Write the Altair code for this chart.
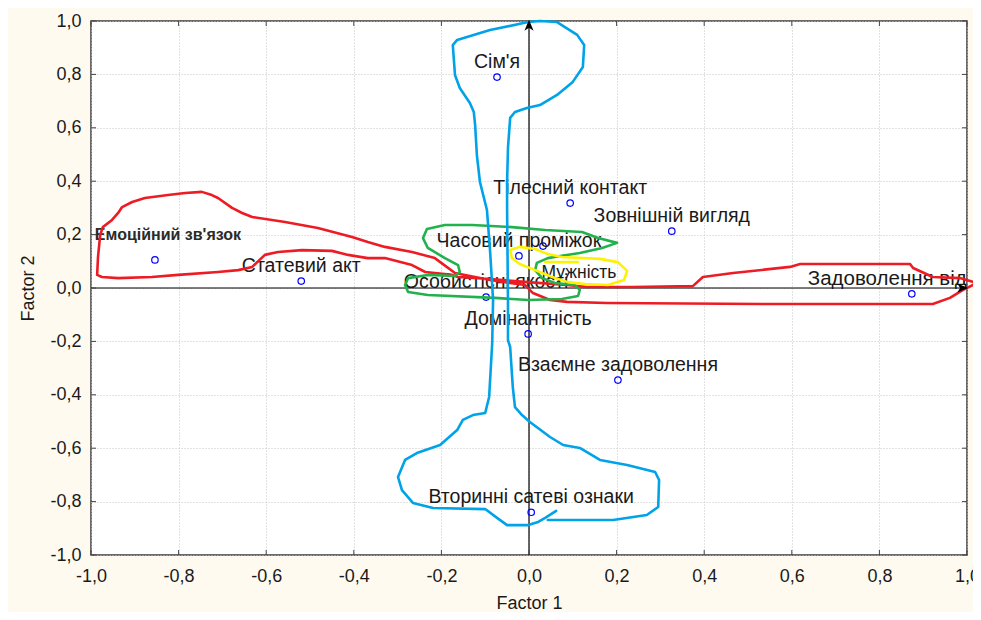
import altair as alt
import pandas as pd

# ---------------- data ----------------
TICKS = [-1.0, -0.8, -0.6, -0.4, -0.2, 0.0, 0.2, 0.4, 0.6, 0.8, 1.0]

LABELS = ["Сім'я", "Тілесний контакт", "Зовнішній вигляд", "Часовий проміжок",
          "Мужність", "Особистісні якості", "Домінантність", "Взаємне задоволення",
          "Вторинні сатеві ознаки", "Емоційний зв'язок", "Статевий акт",
          "Задоволення від сексу"]
FACTOR1 = [-0.073, 0.094, 0.326, -0.023, 0.032, -0.098, -0.002, 0.203, 0.005, -0.854, -0.520, 0.874]
FACTOR2 = [0.790, 0.318, 0.213, 0.120, 0.157, -0.034, -0.172, -0.345, -0.840, 0.105, 0.026, -0.022]

RED_X = [-0.169, -0.215, -0.267, -0.329, -0.368, -0.404, -0.482, -0.557, -0.632, -0.655, -0.678,
         -0.710, -0.724, -0.747, -0.785, -0.824, -0.877, -0.906, -0.929, -0.938, -0.952, -0.973,
         -0.979, -0.984, -0.986, -0.975, -0.938, -0.861, -0.801, -0.710, -0.664, -0.632, -0.603,
         -0.573, -0.518, -0.450, -0.413, -0.368, -0.329, -0.267, -0.237, -0.176, -0.162, -0.089,
         -0.002, 0.087, 0.132, 0.237, 0.374, 0.397, 0.466, 0.596, 0.619, 0.870, 0.877, 0.922,
         0.984, 1.023, 0.991, 0.961, 0.922, 0.534, 0.178, 0.087, 0.048, 0.009, -0.009, -0.089,
         -0.169]
RED_Y = [0.056, 0.112, 0.135, 0.154, 0.172, 0.191, 0.225, 0.247, 0.266, 0.281, 0.300,
         0.337, 0.348, 0.360, 0.356, 0.348, 0.337, 0.322, 0.303, 0.281, 0.255, 0.228,
         0.199, 0.116, 0.049, 0.041, 0.037, 0.041, 0.049, 0.060, 0.067, 0.079, 0.124,
         0.135, 0.142, 0.139, 0.124, 0.112, 0.112, 0.086, 0.060, 0.049, 0.041, 0.034,
         0.022, 0.011, 0.004, 0.004, 0.007, 0.041, 0.056, 0.079, 0.090, 0.090, 0.075, 0.041,
         0.037, 0.019, -0.007, -0.037, -0.060, -0.060, -0.056, -0.052, -0.045, -0.019, 0.011, 0.030,
         0.056]

BLUE_X = [0.062, 0.037, 0.021, -0.002, -0.050, -0.073, -0.100, -0.219, -0.265, -0.290, -0.299,
          -0.283, -0.256, -0.203, -0.164, -0.151, -0.128, -0.100, -0.091, -0.084, -0.082, -0.089,
          -0.096, -0.112, -0.119, -0.123, -0.126, -0.135, -0.158, -0.169, -0.174, -0.164, -0.089,
          -0.002, 0.025, 0.064, 0.110, 0.126, 0.123, 0.100, 0.064, 0.025, -0.005, -0.032, -0.043,
          -0.048, -0.050, -0.050, -0.048, -0.048, -0.043, -0.037, -0.032, -0.016, 0.002, 0.048,
          0.078, 0.116, 0.162, 0.224, 0.288, 0.297, 0.295, 0.269, 0.192, 0.043]
BLUE_Y = [-0.835, -0.861, -0.876, -0.888, -0.888, -0.861, -0.828, -0.824, -0.805, -0.757, -0.708,
          -0.644, -0.618, -0.588, -0.532, -0.494, -0.476, -0.468, -0.408, -0.206, -0.045, 0.142,
          0.292, 0.397, 0.498, 0.610, 0.659, 0.693, 0.749, 0.798, 0.910, 0.929, 0.966,
          0.996, 1.000, 0.996, 0.948, 0.910, 0.828, 0.772, 0.723, 0.685, 0.674, 0.659, 0.637,
          0.524, 0.397, 0.292, -0.045, -0.195, -0.221, -0.371, -0.446, -0.476, -0.502, -0.558,
          -0.588, -0.599, -0.644, -0.663, -0.689, -0.719, -0.820, -0.850, -0.869, -0.869]

GREEN_X = [-0.169, -0.158, -0.162, -0.192, -0.231, -0.242, -0.233, -0.192, -0.130, -0.039, 0.037,
           0.121, 0.158, 0.201, 0.167, 0.116, 0.071, 0.043, 0.018, 0.014, 0.030, 0.059, 0.105,
           0.116, 0.112, 0.075, -0.002, -0.078, -0.231, -0.276, -0.283, -0.276, -0.231, -0.169]
GREEN_Y = [0.045, 0.060, 0.086, 0.112, 0.150, 0.187, 0.221, 0.236, 0.236, 0.228, 0.217,
           0.210, 0.187, 0.169, 0.150, 0.131, 0.120, 0.112, 0.094, 0.067, 0.037, 0.019, 0.011,
           -0.007, -0.030, -0.041, -0.045, -0.037, -0.026, -0.015, 0.011, 0.037, 0.049, 0.045]

YELLOW_X = [-0.043, -0.039, -0.021, 0.014, 0.053, 0.089, 0.128, 0.180, 0.217, 0.224, 0.203,
            0.162, 0.075, 0.043, 0.014, -0.021, -0.043]
YELLOW_Y = [0.142, 0.112, 0.090, 0.067, 0.041, 0.022, 0.015, 0.011, 0.030, 0.064, 0.097,
            0.109, 0.116, 0.127, 0.146, 0.154, 0.142]
YELLOW2_X = [0.037, 0.112]
YELLOW2_Y = [0.097, 0.097]

# ---------------- frames ----------------
pts = pd.DataFrame({"x": FACTOR1, "y": FACTOR2, "label": LABELS})

def path(xs, ys, g="a"):
    return pd.DataFrame({"x": xs, "y": ys, "i": list(range(len(xs))), "g": g})

red = path(RED_X, RED_Y)
blue = path(BLUE_X, BLUE_Y)
green = path(GREEN_X, GREEN_Y)
yellow = pd.concat([path(YELLOW_X, YELLOW_Y, "a"), path(YELLOW2_X, YELLOW2_Y, "b")])

ticks_y = pd.DataFrame({"y": TICKS})
ticks_x = pd.DataFrame({"x": TICKS})

FONT = "Liberation Sans"
W, H = 876, 534
LABEL_EXPR = "replace(replace(format(datum.value, '.1f'), '.', ','), '\u2212', '-')"

SX = alt.Scale(domain=[-1, 1], nice=False, zero=False)
SY = alt.Scale(domain=[-1, 1], nice=False, zero=False)
AX = alt.Axis(values=TICKS, title="Factor 1", labelExpr=LABEL_EXPR, grid=True,
              gridColor="#c4c4c4", gridDash=[1, 2], gridWidth=1, ticks=False, domain=False,
              labelFont=FONT, labelFontSize=18, labelColor="#1a1a1a", labelPadding=12,
              titleFont=FONT, titleFontSize=18, titleFontWeight="normal", titleColor="#1a1a1a",
              titlePadding=9, labelFlush=False)
AY = alt.Axis(values=TICKS, title="Factor 2", labelExpr=LABEL_EXPR, grid=True,
              gridColor="#c4c4c4", gridDash=[1, 2], gridWidth=1, ticks=False, domain=False,
              labelFont=FONT, labelFontSize=18, labelColor="#1a1a1a", labelPadding=10,
              titleFont=FONT, titleFontSize=18, titleFontWeight="normal", titleColor="#1a1a1a",
              titlePadding=12, labelFlush=False)

def X(f="x"):
    return alt.X(f"{f}:Q", scale=SX, axis=AX)

def Y(f="y"):
    return alt.Y(f"{f}:Q", scale=SY, axis=AY)

# zero axes
zero_v = alt.Chart(pd.DataFrame({"x": [0.0]})).mark_rule(color="#000000", strokeWidth=1.2).encode(x=X())
zero_h = alt.Chart(pd.DataFrame({"y": [0.0]})).mark_rule(color="#000000", strokeWidth=1.2).encode(y=Y())

# inner ticks
t_left = alt.Chart(ticks_y).mark_rule(color="#444444").encode(y=Y(), x=alt.value(0), x2=alt.value(5))
t_right = alt.Chart(ticks_y).mark_rule(color="#444444").encode(y=Y(), x=alt.value(W - 5), x2=alt.value(W))
t_top = alt.Chart(ticks_x).mark_rule(color="#444444").encode(x=X(), y=alt.value(0), y2=alt.value(5))
t_bot = alt.Chart(ticks_x).mark_rule(color="#444444").encode(x=X(), y=alt.value(H - 5), y2=alt.value(H))

# arrow heads
arrow_up = alt.Chart(pd.DataFrame({"x": [0.0], "y": [1.0]})).mark_point(
    shape="M0,-0.2L-0.8,1.7L0,1.2L0.8,1.7Z", filled=True, color="#000000", size=130,
    opacity=1, clip=False).encode(x=X(), y=Y())
arrow_right = alt.Chart(pd.DataFrame({"x": [1.0], "y": [0.0]})).mark_point(
    shape="M0.2,0L-1.7,-0.8L-1.2,0L-1.7,0.8Z", filled=True, color="#000000", size=130,
    opacity=1, clip=False).encode(x=X(), y=Y())

points = alt.Chart(pts).mark_point(shape="circle", filled=False, color="#0000ff",
                                   size=42, strokeWidth=1.2, opacity=1).encode(x=X(), y=Y())

SPECIAL = ["Мужність", "Емоційний зв'язок", "Задоволення від сексу"]
labels_std = alt.Chart(pts).transform_filter(
    ~alt.FieldOneOfPredicate(field="label", oneOf=SPECIAL)
).mark_text(font=FONT, fontSize=19.5, dy=-15, color="#1a1a1a").encode(x=X(), y=Y(), text="label:N")

lab_muzh = alt.Chart(pts).transform_filter(alt.datum.label == "Мужність").mark_text(
    font=FONT, fontSize=17.5, dx=36, dy=27, color="#1a1a1a").encode(x=X(), y=Y(), text="label:N")
lab_emo = alt.Chart(pts).transform_filter(alt.datum.label == "Емоційний зв'язок").mark_text(
    font=FONT, fontSize=16, fontWeight="bold", dx=13, dy=-25, color="#2a2a2a").encode(
    x=X(), y=Y(), text="label:N")
lab_zad = alt.Chart(pts).transform_filter(alt.datum.label == "Задоволення від сексу").mark_text(
    font=FONT, fontSize=20.5, align="left", dx=-104, dy=-15, color="#1a1a1a", clip=True).encode(
    x=X(), y=Y(), text="label:N")

def contour(df, color):
    return alt.Chart(df).mark_line(color=color, strokeWidth=2.6, strokeJoin="round",
                                   strokeCap="round", clip=False).encode(
        x=X(), y=Y(), order="i:Q", detail="g:N")

chart = alt.layer(
    zero_v, zero_h, t_left, t_right, t_top, t_bot,
    points, labels_std, lab_muzh, lab_emo, lab_zad,
    contour(red, "#ed1c24"), contour(green, "#22b14c"), contour(yellow, "#fff200"),
    contour(blue, "#00a2e8"),
    arrow_up, arrow_right,
).properties(
    width=W, height=H,
    autosize=alt.AutoSizeParams(type="none"),
    padding={"left": 83, "top": 13, "right": 6, "bottom": 57},
    background="#fffaf0",
).configure_view(fill="#ffffff", stroke="#3a3a3a", strokeWidth=1.5)

chart.save("out.html", embed_options={"renderer": "svg", "actions": False})
